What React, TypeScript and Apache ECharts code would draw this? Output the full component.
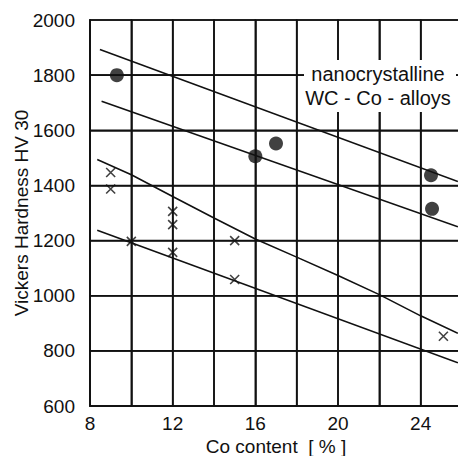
import React, { useEffect, useRef } from "react";
import * as echarts from "echarts";

const xMin = 8;
const xMax = 26;
const xStep = 2;
const xTicks = [8, 12, 16, 20, 24];
const yMin = 600;
const yMax = 2000;
const yStep = 200;

// nanocrystalline WC-Co alloys (filled circles)
const nanoCo = [9.3, 16.0, 17.0, 24.5, 24.55];
const nanoHV = [1800, 1506, 1552, 1437, 1315];

// conventional alloys (crosses)
const convCo = [9.0, 9.0, 10.0, 12.0, 12.0, 12.0, 15.0, 15.0, 25.1];
const convHV = [1447, 1387, 1197, 1306, 1258, 1157, 1200, 1059, 853];

// trend lines
const line1Co = [8.48, 25.8];
const line1HV = [1893, 1414];
const line2Co = [8.56, 25.8];
const line2HV = [1705, 1250];
const line3Co = [8.35, 10, 12, 14, 16, 18, 20, 22, 24, 25.8];
const line3HV = [1494, 1439, 1360, 1282, 1206, 1140, 1073, 1004, 927, 864];
const line4Co = [8.35, 25.8];
const line4HV = [1237, 757];

const noteLines = ["nanocrystalline", "WC - Co - alloys"];

const FONT = "Liberation Sans, Arial, Helvetica, sans-serif";
const INK = "#111111";
const GRID_W = 1.6;

function zip(a: number[], b: number[]) {
  return a.map((v, i) => [v, b[i]]);
}

function steps(min: number, max: number, step: number) {
  const out: number[] = [];
  for (let v = min; v <= max + 1e-9; v += step) out.push(v);
  return out;
}

export default function App() {
  const ref = useRef<HTMLDivElement>(null);
  useEffect(() => {
    document.body.style.margin = "0";
    if (!ref.current) return;
    const chart = echarts.init(ref.current, undefined, { renderer: "svg" });
    const lineSeries = (co: number[], hv: number[]) => ({
      type: "line",
      data: zip(co, hv),
      showSymbol: false,
      symbol: "none",
      lineStyle: { color: INK, width: 1.6 },
      z: 6,
      silent: true,
    });
    const vGrid = steps(xMin, xMax, xStep).map((v) => [v, yMin]);
    const hGrid = steps(yMin, yMax, yStep).map((v) => [xMin, v]);
    chart.setOption({
      animation: false,
      grid: {
        left: 90,
        top: 20,
        width: 372,
        height: 386,
        containLabel: false,
        outerBoundsMode: "none",
        show: false,
      },
      xAxis: {
        type: "value",
        min: xMin,
        max: xMax,
        interval: xStep,
        name: "Co content  [ % ]",
        nameLocation: "middle",
        nameGap: 31,
        nameMoveOverlap: false,
        nameTextStyle: { fontFamily: FONT, fontSize: 19, color: INK },
        axisLine: { show: true, onZero: false, lineStyle: { color: INK, width: 1.6 } },
        axisTick: { show: false },
        axisLabel: {
          margin: 8,
          interval: 0,
          fontFamily: FONT,
          fontSize: 19,
          color: INK,
          formatter: (v: number) => (xTicks.includes(v) ? String(v) : ""),
        },
        splitLine: { show: true, lineStyle: { color: INK, width: 1.6 } },
      },
      yAxis: {
        type: "value",
        min: yMin,
        max: yMax,
        interval: yStep,
        name: "Vickers Hardness HV 30",
        nameLocation: "middle",
        nameGap: 59,
        nameMoveOverlap: false,
        nameTextStyle: { fontFamily: FONT, fontSize: 19, color: INK },
        axisLine: { show: true, onZero: false, lineStyle: { color: INK, width: 1.6 } },
        axisTick: { show: false },
        axisLabel: {
          margin: 15,
          fontFamily: FONT,
          fontSize: 19,
          color: INK,
          formatter: (v: number) => String(v),
        },
        splitLine: { show: true, lineStyle: { color: INK, width: 1.6 } },
      },
      graphic: [
        {
          type: "group",
          z: 20,
          children: [
            {
              type: "rect",
              z: 20,
              shape: { x: 304, y: 60, width: 152, height: 52 },
              style: { fill: "#fff" },
            },
            {
              type: "text",
              z: 21,
              x: 378,
              y: 74,
              style: {
                text: noteLines[0],
                fontFamily: FONT,
                fontSize: 20,
                fill: INK,
                align: "center",
                verticalAlign: "middle",
              },
            },
            {
              type: "text",
              z: 21,
              x: 378,
              y: 98,
              style: {
                text: noteLines[1],
                fontFamily: FONT,
                fontSize: 20,
                fill: INK,
                align: "center",
                verticalAlign: "middle",
              },
            },
          ],
        },
      ],
      series: [
        {
          type: "custom",
          silent: true,
          z: 5,
          clip: false,
          data: vGrid,
          renderItem: (_p: any, api: any) => {
            const x = api.value(0);
            const bottom = api.coord([x, yMin]);
            const top = api.coord([x, yMax]);
            return {
              type: "rect",
              shape: {
                x: bottom[0] - GRID_W / 2,
                y: top[1] - GRID_W / 2,
                width: GRID_W,
                height: bottom[1] - top[1] + GRID_W,
              },
              style: { fill: INK },
            };
          },
        },
        {
          type: "custom",
          silent: true,
          z: 5,
          clip: false,
          data: hGrid,
          renderItem: (_p: any, api: any) => {
            const y = api.value(1);
            const left = api.coord([xMin, y]);
            const right = api.coord([xMax, y]);
            return {
              type: "rect",
              shape: {
                x: left[0] - GRID_W / 2,
                y: left[1] - GRID_W / 2,
                width: right[0] - left[0] + GRID_W,
                height: GRID_W,
              },
              style: { fill: INK },
            };
          },
        },
        lineSeries(line1Co, line1HV),
        lineSeries(line2Co, line2HV),
        lineSeries(line3Co, line3HV),
        lineSeries(line4Co, line4HV),
        {
          type: "scatter",
          data: zip(nanoCo, nanoHV),
          symbol: "circle",
          symbolSize: 14,
          itemStyle: { color: INK },
          z: 7,
        },
        {
          type: "scatter",
          data: zip(convCo, convHV),
          symbol: "path://M0,0L10,10M10,0L0,10",
          symbolSize: 9,
          itemStyle: { color: "rgba(0,0,0,0)", borderColor: INK, borderWidth: 1.6 },
          z: 7,
        },
      ],
    });
    return () => chart.dispose();
  }, []);
  return <div ref={ref} style={{ width: 458, height: 456 }} />;
}
